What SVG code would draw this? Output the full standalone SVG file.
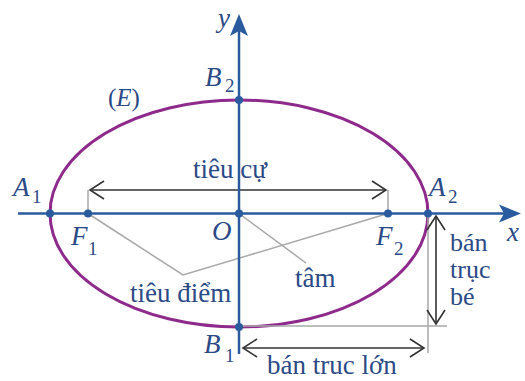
<svg xmlns="http://www.w3.org/2000/svg" width="525" height="381" viewBox="0 0 525 381" font-family="Liberation Serif">
<rect width="525" height="381" fill="#fff"/>
<g id="ellipse-E">
<ellipse cx="239" cy="213.5" rx="189" ry="113.5" fill="none" stroke="#8E2A8C" stroke-width="3"/>
</g>
<g id="connectors" fill="none">
<g stroke="#A8A8A8" stroke-width="1.5">
<polyline points="88,213.5 183,275 388,213.5"/>
<line x1="239" y1="213.5" x2="306" y2="263"/>
<line x1="88" y1="190" x2="88" y2="213.5"/>
<line x1="388" y1="190" x2="388" y2="213.5"/>
<line x1="239" y1="326" x2="447" y2="326"/>
<line x1="428" y1="213.5" x2="428" y2="353"/>
</g>
<g stroke="#333" stroke-width="1.6">
<line x1="90" y1="190" x2="386" y2="190"/>
<path d="M104,181 L90,190 L104,199 M372,181 L386,190 L372,199"/>
<line x1="436" y1="216" x2="436" y2="324"/>
<path d="M427,230 L436,216 L445,230 M427,310 L436,324 L445,310"/>
<line x1="243" y1="348" x2="424" y2="348"/>
<path d="M257,339 L243,348 L257,357 M410,339 L424,348 L410,357"/>
</g>
</g>
<g id="axes" fill="#2A5B9E" stroke="#2A5B9E">
<line x1="18" y1="213.5" x2="506" y2="213.5" stroke-width="2.5"/>
<polygon points="521,213.5 499,204.5 504,213.5 499,222.5" stroke="none"/>
<line x1="239" y1="30" x2="239" y2="354" stroke-width="2.5"/>
<polygon points="239,14 230,36 239,31 248,36" stroke="none"/>
</g>
<g id="labels" fill="#2B4A86">
<text x="507" y="241" style="font-family:'Liberation Serif',serif !important;font-size:27px;font-style:italic">x</text>
<text x="218" y="27" style="font-family:'Liberation Serif',serif !important;font-size:27px;font-style:italic">y</text>
<text x="108" y="106" style="font-family:'Liberation Serif',serif !important;font-size:25px">(<tspan style="font-style:italic;font-family:'Liberation Serif',serif !important">E</tspan>)</text>
</g>
<g id="node-A1" fill="#2B4A86"><circle cx="50" cy="213.5" r="4" fill="#2A5B9E"/><text x="13" y="196" style="font-family:'Liberation Serif',serif !important;font-size:27px;font-style:italic">A</text><text x="32" y="203" style="font-family:'Liberation Serif',serif !important;font-size:19px">1</text></g>
<g id="node-A2" fill="#2B4A86"><circle cx="428" cy="213.5" r="4" fill="#2A5B9E"/><text x="429" y="196" style="font-family:'Liberation Serif',serif !important;font-size:27px;font-style:italic">A</text><text x="448" y="203" style="font-family:'Liberation Serif',serif !important;font-size:19px">2</text></g>
<g id="node-F1" fill="#2B4A86"><circle cx="88" cy="213.5" r="4" fill="#2A5B9E"/><text x="71" y="245" style="font-family:'Liberation Serif',serif !important;font-size:27px;font-style:italic">F</text><text x="88" y="255" style="font-family:'Liberation Serif',serif !important;font-size:19px">1</text></g>
<g id="node-F2" fill="#2B4A86"><circle cx="388" cy="213.5" r="4" fill="#2A5B9E"/><text x="376" y="245" style="font-family:'Liberation Serif',serif !important;font-size:27px;font-style:italic">F</text><text x="394" y="255" style="font-family:'Liberation Serif',serif !important;font-size:19px">2</text></g>
<g id="node-O" fill="#2B4A86"><circle cx="239" cy="213.5" r="4" fill="#2A5B9E"/><text x="212" y="240" style="font-family:'Liberation Serif',serif !important;font-size:27px;font-style:italic">O</text></g>
<g id="node-B2" fill="#2B4A86"><circle cx="239" cy="100" r="4" fill="#2A5B9E"/><text x="205" y="86" style="font-family:'Liberation Serif',serif !important;font-size:27px;font-style:italic">B</text><text x="225" y="92" style="font-family:'Liberation Serif',serif !important;font-size:19px">2</text></g>
<g id="node-B1" fill="#2B4A86"><circle cx="239" cy="327" r="4" fill="#2A5B9E"/><text x="204" y="353" style="font-family:'Liberation Serif',serif !important;font-size:27px;font-style:italic">B</text><text x="225" y="362" style="font-family:'Liberation Serif',serif !important;font-size:19px">1</text></g>
<g id="label-tieucu" fill="#2B4A86"><text x="193" y="178" style="font-family:'Liberation Serif',serif !important;font-size:27px">tiêu cự</text></g>
<g id="label-tieudiem" fill="#2B4A86"><text x="130" y="302" style="font-family:'Liberation Serif',serif !important;font-size:27px">tiêu điểm</text></g>
<g id="label-tam" fill="#2B4A86"><text x="295" y="287" style="font-family:'Liberation Serif',serif !important;font-size:27px">tâm</text></g>
<g id="label-bantrucbe" fill="#2B4A86"><text x="450" y="251" style="font-family:'Liberation Serif',serif !important;font-size:26px">bán</text><text x="450" y="278" style="font-family:'Liberation Serif',serif !important;font-size:26px">trục</text><text x="450" y="305" style="font-family:'Liberation Serif',serif !important;font-size:26px">bé</text></g>
<g id="label-bantruclon" fill="#2B4A86"><text x="267" y="374" style="font-family:'Liberation Serif',serif !important;font-size:27px">bán truc lớn</text></g>
</svg>
